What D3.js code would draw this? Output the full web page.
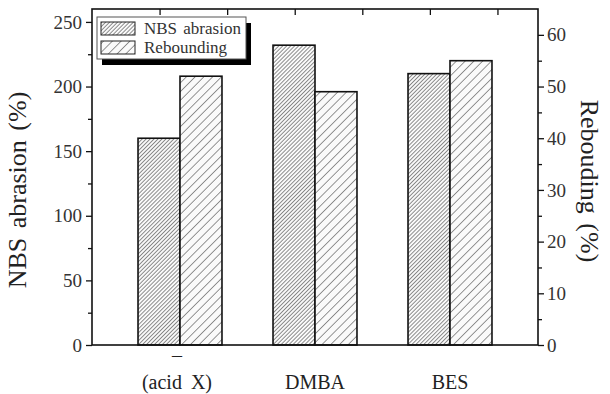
<!DOCTYPE html>
<html>
<head>
<meta charset="utf-8">
<script src="https://cdn.jsdelivr.net/npm/d3@7"></script>
<style>
  body { margin: 0; background: #fff; }
</style>
</head>
<body>
<div id="chart"></div>
<script>
// data
var categories = ["acid", "DMBA", "BES"];
var categoryLabels = [["\u2013", "(acid X)"], ["DMBA"], ["BES"]];
var nbsAbrasion = [160, 232, 210];   // left axis, %
var rebounding = [52, 49, 55];       // right axis, %
var leftTicks = [0, 50, 100, 150, 200, 250];
var rightTicks = [0, 10, 20, 30, 40, 50, 60];
var seriesNames = ["NBS abrasion", "Rebounding"];

var FONT = "Liberation Serif";

var W = 610, H = 394;
var margin = {top: 9, right: 72, bottom: 49, left: 92},
    width = W - margin.left - margin.right,
    height = H - margin.top - margin.bottom;

var svg = d3.select("#chart").append("svg")
    .attr("width", W)
    .attr("height", H);

// hatch patterns
var defs = svg.append("defs");
function hatch(id, gap, col) {
  var p = defs.append("pattern")
    .attr("id", id)
    .attr("patternUnits", "userSpaceOnUse")
    .attr("width", gap).attr("height", gap)
    .attr("patternTransform", "rotate(45)");
  p.append("rect").attr("width", gap).attr("height", gap).attr("fill", "#fafafa");
  p.append("line")
    .attr("x1", gap / 2).attr("y1", 0)
    .attr("x2", gap / 2).attr("y2", gap)
    .attr("stroke", col).attr("stroke-width", 0.8);
}
hatch("hNBS", 2.8, "#707070");
hatch("hReb", 6.2, "#7a7a7a");
var fills = ["url(#hNBS)", "url(#hReb)"];

var g = svg.append("g")
    .attr("transform", "translate(" + margin.left + "," + margin.top + ")");

// scales
var x0 = d3.scaleBand()
    .domain(categories)
    .range([20.5, 425.5])
    .paddingInner(0.378)
    .paddingOuter(0.189);
var x1 = d3.scaleBand()
    .domain(seriesNames)
    .range([0, x0.bandwidth()]);
var yL = d3.scaleLinear().domain([0, 260]).range([height, 0]);
var yR = d3.scaleLinear().domain([0, 65]).range([height, 0]);
var xTop = d3.scaleLinear().domain([0, 6.6]).range([0, width]);

// bars
var rows = categories.map(function(c, i) {
  return [
    {cat: c, s: seriesNames[0], y: yL(nbsAbrasion[i]), k: 0},
    {cat: c, s: seriesNames[1], y: yR(rebounding[i]), k: 1}
  ];
});
g.selectAll(".grp")
  .data(rows)
  .enter().append("g")
    .attr("class", "grp")
  .selectAll("rect")
  .data(function(d) { return d; })
  .enter().append("rect")
    .attr("x", function(d) { return x0(d.cat) + x1(d.s); })
    .attr("y", function(d) { return d.y; })
    .attr("width", x1.bandwidth())
    .attr("height", function(d) { return height - d.y; })
    .attr("fill", function(d) { return fills[d.k]; })
    .attr("stroke", "#111")
    .attr("stroke-width", 1.6);

// axes
g.append("g")
  .call(d3.axisLeft(yL).tickValues(leftTicks).tickSize(6).tickPadding(4));
g.append("g")
  .call(d3.axisLeft(yL).tickValues(d3.range(25, 260, 50)).tickSize(4).tickFormat(""));
g.append("g")
  .attr("transform", "translate(" + width + ",0)")
  .call(d3.axisRight(yR).tickValues(rightTicks).tickSize(6).tickPadding(3));
g.append("g")
  .attr("transform", "translate(" + width + ",0)")
  .call(d3.axisRight(yR).tickValues(d3.range(5, 65, 10)).tickSize(4).tickFormat(""));
g.append("g")
  .call(d3.axisBottom(xTop).tickValues([1, 2, 3, 4, 5, 6]).tickSize(6).tickFormat(""));

g.selectAll(".domain").remove();
g.selectAll("g").attr("font-family", FONT).attr("font-size", 19);
g.selectAll(".tick line").attr("stroke", "#111").attr("stroke-width", 1.3);
g.selectAll(".tick text")
  .attr("font-family", FONT)
  .attr("font-size", 19)
  .attr("fill", "#333");

// frame
g.append("rect")
  .attr("width", width).attr("height", height)
  .attr("fill", "none").attr("stroke", "#111").attr("stroke-width", 1.6);

// category labels
categories.forEach(function(c, i) {
  var cx = x0(c) + x0.bandwidth() / 2;
  var lines = categoryLabels[i];
  lines.forEach(function(t, j) {
    g.append("text")
      .attr("x", cx - (lines.length > 1 ? 3 : 0))
      .attr("y", height + 44 - (lines.length - 1 - j) * 27)
      .attr("text-anchor", "middle")
      .attr("fill", "#222")
      .attr("font-family", FONT)
      .attr("font-size", 20)
      .attr("word-spacing", 4)
      .text(t);
  });
});

// axis titles
svg.append("text")
  .attr("transform", "translate(26,190) rotate(-90)")
  .attr("text-anchor", "middle")
  .attr("fill", "#222")
  .attr("font-family", FONT)
  .attr("font-size", 26)
  .attr("word-spacing", 3)
  .text("NBS abrasion (%)");
svg.append("text")
  .attr("transform", "translate(581,181) rotate(90)")
  .attr("text-anchor", "middle")
  .attr("fill", "#222")
  .attr("font-family", FONT)
  .attr("font-size", 26)
  .attr("word-spacing", 3)
  .text("Rebouding (%)");

// legend
var lg = svg.append("g").attr("transform", "translate(97,17)");
lg.append("rect")
  .attr("x", 5).attr("y", 6).attr("width", 149).attr("height", 42)
  .attr("fill", "#000");
lg.append("rect")
  .attr("width", 149).attr("height", 42)
  .attr("fill", "#fff").attr("stroke", "#555").attr("stroke-width", 1);
seriesNames.forEach(function(s, i) {
  var yy = 5 + i * 19;
  lg.append("rect")
    .attr("x", 4).attr("y", yy).attr("width", 34).attr("height", 13)
    .attr("fill", fills[i]).attr("stroke", "#222").attr("stroke-width", 1);
  lg.append("text")
    .attr("x", 47).attr("y", yy + 12)
    .attr("fill", "#333")
    .attr("font-family", FONT)
    .attr("font-size", 17)
    .attr("word-spacing", 2)
    .text(s);
});
</script>
</body>
</html>
